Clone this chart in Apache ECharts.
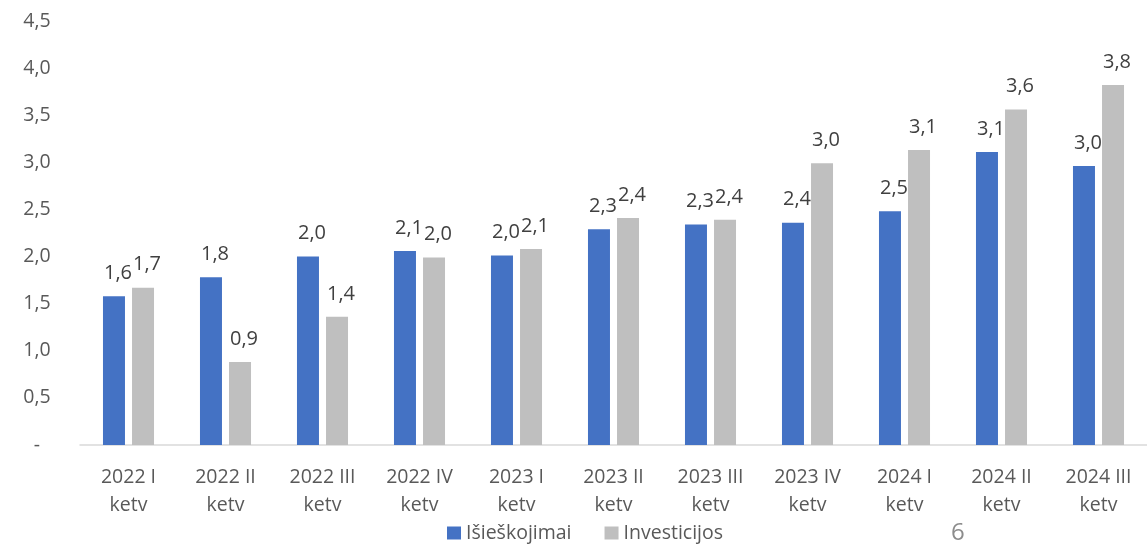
<!DOCTYPE html>
<html>
<head>
<meta charset="utf-8">
<script src="https://cdn.jsdelivr.net/npm/echarts@6/dist/echarts.min.js"></script>
<style>
html,body{margin:0;padding:0;background:#fff;}
#chart{width:1147px;height:544px;}
</style>
</head>
<body>
<div id="chart"></div>
<script>
const categories = ['2022 I\nketv','2022 II\nketv','2022 III\nketv','2022 IV\nketv','2023 I\nketv','2023 II\nketv','2023 III\nketv','2023 IV\nketv','2024 I\nketv','2024 II\nketv','2024 III\nketv'];
const isieskojimai = [1.58, 1.78, 2.00, 2.06, 2.01, 2.29, 2.34, 2.36, 2.48, 3.11, 2.96];
const investicijos = [1.67, 0.88, 1.36, 1.99, 2.08, 2.41, 2.39, 2.99, 3.13, 3.56, 3.82];
const seriesNames = ['Išieškojimai', 'Investicijos'];
const pageNumber = '6';

const FONT = '"Open Sans", "Noto Sans", sans-serif';
const fmt = v => (Math.round(v * 10) / 10).toFixed(1).replace('.', ',');

const chart = echarts.init(document.getElementById('chart'), null, {renderer: 'canvas'});
const labelCfg = {
  show: true, position: 'top', distance: 13, offset: [4, 0],
  color: '#404040', fontSize: 20, fontFamily: FONT,
  formatter: p => fmt(p.value)
};
chart.setOption({
  animation: false,
  grid: {left: 80, top: 21, width: 1078, height: 424, containLabel: false},
  xAxis: {
    type: 'category', data: categories,
    axisLine: {show: true, lineStyle: {color: '#D9D9D9', width: 1.5}},
    axisTick: {show: false},
    axisLabel: {color: '#595959', fontSize: 19.5, fontFamily: FONT, lineHeight: 28, margin: 18, interval: 0}
  },
  yAxis: {
    type: 'value', min: 0, max: 4.5, interval: 0.5,
    axisLine: {show: false}, axisTick: {show: false}, splitLine: {show: false},
    axisLabel: {
      color: '#595959', fontSize: 19.5, fontFamily: FONT, margin: 43, align: 'center',
      formatter: v => v === 0 ? '-' : fmt(v)
    }
  },
  legend: {
    data: seriesNames, left: 447, top: 521, padding: 0, itemWidth: 14, itemHeight: 13, itemGap: 33,
    icon: 'rect',
    textStyle: {color: '#595959', fontSize: 19.5, fontFamily: FONT, lineHeight: 24}
  },
  graphic: [{
    type: 'text', left: 951, top: 521,
    style: {text: pageNumber, fill: '#8C8C8C', fontSize: 24, fontFamily: FONT}
  }],
  series: [
    {name: seriesNames[0], type: 'bar', data: isieskojimai, barWidth: 22, barGap: '32%',
     itemStyle: {color: '#4472C4'}, label: labelCfg},
    {name: seriesNames[1], type: 'bar', data: investicijos, barWidth: 22, barGap: '32%',
     itemStyle: {color: '#BFBFBF'}, label: labelCfg}
  ]
});
</script>
</body>
</html>
